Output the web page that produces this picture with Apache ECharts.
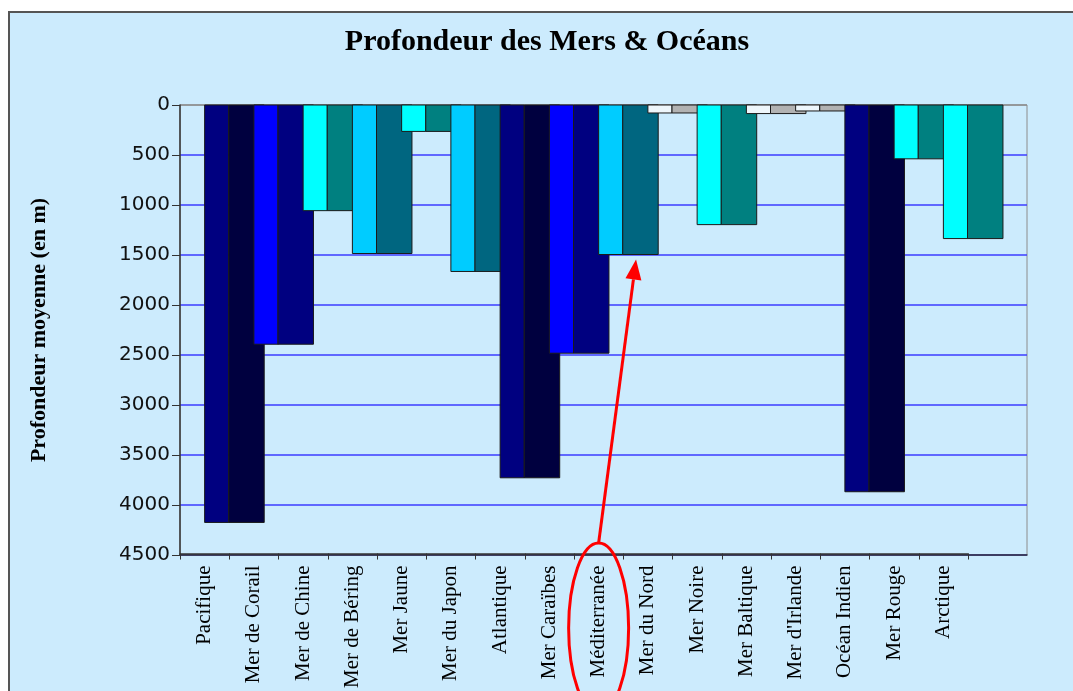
<!DOCTYPE html>
<html>
<head>
<meta charset="utf-8">
<script src="https://cdn.jsdelivr.net/npm/echarts@6/dist/echarts.min.js"></script>
<style>
html, body { margin: 0; padding: 0; background: #fff; }
#main { width: 1073px; height: 691px; }
</style>
</head>
<body>
<div id="main"></div>
<script>
// données
var mers = ['Pacifique', 'Mer de Corail', 'Mer de Chine', 'Mer de Béring', 'Mer Jaune', 'Mer du Japon',
	'Atlantique', 'Mer Caraïbes', 'Méditerranée', 'Mer du Nord', 'Mer Noire', 'Mer Baltique',
	"Mer d'Irlande", 'Océan Indien', 'Mer Rouge', 'Arctique'];
var profondeurs = [4188, 2400, 1060, 1490, 265, 1670, 3740, 2490, 1500, 80, 1200, 86, 60, 3880, 540, 1340];
var graduations = [0, 500, 1000, 1500, 2000, 2500, 3000, 3500, 4000, 4500];

// couleurs (face claire / face sombre)
var couleurFace = ['#000080', '#0000FF', '#00FFFF', '#00CCFF', '#00FFFF', '#00CCFF', '#000080', '#0000FF',
	'#00CCFF', '#EEF6FB', '#00FFFF', '#EEF6FB', '#EEF6FB', '#000080', '#00FFFF', '#00FFFF'];
var couleurCote = ['#00003F', '#000080', '#008080', '#006680', '#008080', '#006680', '#00003F', '#000080',
	'#006680', '#B2B2B2', '#008080', '#B2B2B2', '#B2B2B2', '#00003F', '#008080', '#008080'];

var fond = '#CCEBFD';
var titre = 'Profondeur des Mers & Océans';

function renderBarre(params, api) {
	var i = api.value(0);
	var haut = api.coord([i, 0]);
	var bas = api.coord([i, api.value(1)]);
	var bw = api.size([1, 0])[0];
	var w1 = bw * 0.49,
		w2 = bw * 0.72;
	var h = bas[1] - haut[1];
	return {
		type: 'group',
		children: [{
			type: 'rect',
			shape: { x: haut[0], y: haut[1], width: w1, height: h },
			style: { fill: couleurFace[i], stroke: '#1a1a1a', lineWidth: 1 }
		}, {
			type: 'rect',
			shape: { x: haut[0] + w1, y: haut[1], width: w2, height: h },
			style: { fill: couleurCote[i], stroke: '#1a1a1a', lineWidth: 1 }
		}]
	};
}

var myChart = echarts.init(document.getElementById('main'));
var option = {
	backgroundColor: '#fff',
	animation: false,
	grid: [{
		left: 180, right: 105, top: 105, bottom: 136
	}, {
		left: 180, right: 46, top: 105, bottom: 136,
		show: true, borderColor: '#8c8c8c', borderWidth: 1
	}],
	xAxis: [{
		type: 'category',
		gridIndex: 0,
		data: mers,
		boundaryGap: true,
		axisLine: { show: true, onZero: false, lineStyle: { color: '#333', width: 1.5 } },
		axisTick: { show: true, interval: 0, length: 6, lineStyle: { color: '#333' } },
		axisLabel: {
			interval: 0, rotate: 90, margin: 12,
			fontFamily: 'Liberation Serif', fontSize: 21, color: '#000'
		}
	}, {
		type: 'value',
		gridIndex: 1,
		min: 0, max: 1,
		axisLine: { show: true, onZero: false, lineStyle: { color: '#333', width: 1.5 } },
		axisTick: { show: false },
		axisLabel: { show: false },
		splitLine: { show: false }
	}],
	yAxis: [{
		type: 'value',
		gridIndex: 0,
		inverse: true,
		min: 0, max: 4500,
		show: false
	}, {
		type: 'value',
		gridIndex: 1,
		inverse: true,
		min: 0, max: 4500, interval: 500,
		name: 'Profondeur moyenne (en m)',
		nameLocation: 'middle',
		nameRotate: 90,
		nameGap: 130,
		nameTextStyle: { fontFamily: 'Liberation Serif', fontWeight: 'bold', fontSize: 22, color: '#000' },
		axisLine: { show: true, onZero: false, lineStyle: { color: '#333', width: 1.5 } },
		axisTick: { show: true, length: 8, lineStyle: { color: '#333' } },
		axisLabel: {
			margin: 10, fontFamily: 'DejaVu Sans', fontSize: 20, color: '#111',
			formatter: function(v) { return String(v); }
		},
		splitLine: {
			show: true,
			lineStyle: {
				width: 1.5,
				color: graduations.map(function(t) { return t === 0 ? '#8c8c8c' : '#3c3cff'; })
			}
		}
	}],
	series: [{
		type: 'custom',
		xAxisIndex: 0,
		yAxisIndex: 0,
		clip: false,
		renderItem: renderBarre,
		encode: { x: 0, y: 1 },
		data: profondeurs.map(function(v, i) { return [i, v]; })
	}]
};
myChart.setOption(option);

// annotation rouge : ellipse autour de Méditerranée + flèche vers sa barre
var iMed = mers.indexOf('Méditerranée');
var centre = myChart.convertToPixel({ xAxisIndex: 0, yAxisIndex: 0 }, [iMed, profondeurs[iMed]]);
var bw = myChart.getModel().getComponent('xAxis', 0).axis.getBandWidth();
var pointe = [centre[0] + bw * 0.76, centre[1] + 5];
var ex = centre[0], ey = 628, rx = 30, ry = 85;
var depart = [ex, ey - ry];
var dx = pointe[0] - depart[0], dy = pointe[1] - depart[1];
var len = Math.sqrt(dx * dx + dy * dy);
var ux = dx / len, uy = dy / len;
var base = [pointe[0] - ux * 20, pointe[1] - uy * 20];
var px = -uy * 8, py = ux * 8;

myChart.setOption({
	graphic: [{
		type: 'rect',
		z: -100,
		silent: true,
		shape: { x: 9, y: 12, width: 1100, height: 700 },
		style: { fill: fond, stroke: '#555', lineWidth: 2 }
	}, {
		type: 'text',
		x: 547, y: 42,
		style: {
			text: titre,
			textAlign: 'center', textVerticalAlign: 'middle',
			fontFamily: 'Liberation Serif', fontWeight: 'bold', fontSize: 30, fill: '#000'
		}
	}, {
		type: 'ellipse',
		z: 100,
		shape: { cx: ex, cy: ey, rx: rx, ry: ry },
		style: { fill: 'none', stroke: '#ff0000', lineWidth: 3 }
	}, {
		type: 'line',
		z: 100,
		shape: { x1: depart[0], y1: depart[1], x2: base[0], y2: base[1] },
		style: { stroke: '#ff0000', lineWidth: 3 }
	}, {
		type: 'polygon',
		z: 100,
		shape: { points: [pointe, [base[0] + px, base[1] + py], [base[0] - px, base[1] - py]] },
		style: { fill: '#ff0000' }
	}]
});
</script>
</body>
</html>
